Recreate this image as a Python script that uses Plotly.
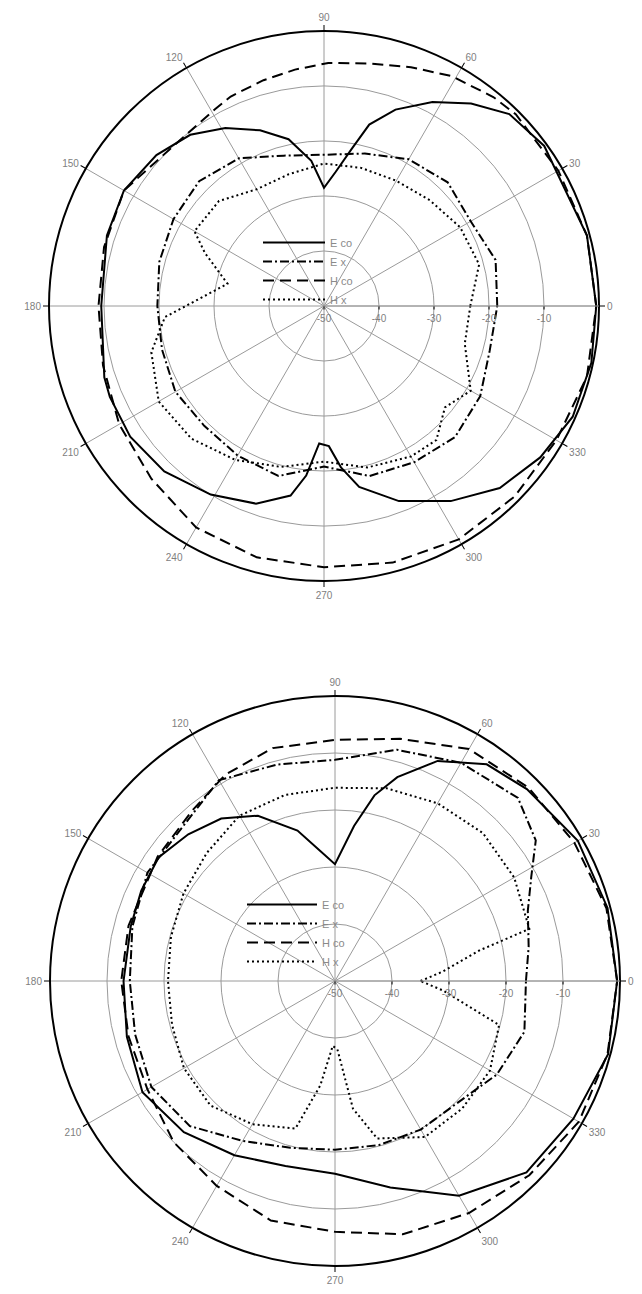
import plotly.graph_objects as go

# ---------------- upper pattern (dB vs. angle in degrees) ----------------
top_eco_theta = [0, 15, 36, 46, 54, 62, 70, 76, 80, 85, 90, 95, 102, 110, 119, 128, 138, 150, 162,
                 180, 198, 203, 214, 226, 239, 251, 260, 264, 268, 272, 276, 281, 291, 303, 314,
                 325, 336, 348, 360]
top_eco_db = [-0.5, -0.5, -0.5, -1.5, -4.5, -8, -12, -16, -21, -25.5, -28.5, -23.5, -19, -16, -13,
              -10.5, -9, -8, -8.5, -9.5, -8, -7.7, -7.5, -8.2, -10, -12, -15, -19, -25, -24.5,
              -20.5, -16.5, -12, -7.7, -4, -2, -0.5, -0.3, -0.5]

top_ex_theta = [0, 15, 30, 45, 60, 75, 90, 105, 120, 135, 150, 165, 180, 195, 210, 225, 240, 255,
                270, 285, 300, 315, 330, 345, 360]
top_ex_db = [-18.5, -17.7, -19.2, -18.2, -19.2, -21.3, -22.5, -21.7, -19, -17.9, -18.4, -19, -19.7,
             -19.5, -18.8, -19.2, -18.6, -18, -20.8, -18, -17.2, -16.3, -17.2, -18.8, -18.5]

top_hco_theta = [0, 15, 30, 45, 51, 61, 70, 79, 89, 97, 105, 114, 119, 135, 150, 165, 180, 195,
                 210, 225, 240, 255, 270, 285, 300, 315, 330, 345, 360]
top_hco_db = [-0.5, -0.5, -0.8, -0.7, -1.1, -2.2, -3.8, -5.1, -5.8, -6.7, -7.5, -8.3, -9.1, -10,
              -8, -8.6, -9, -8.4, -7, -5.6, -3.5, -2.7, -2.5, -1.7, -1, -1, -1.2, -0.5, -0.5]

top_hx_theta = [0, 15, 30, 45, 60, 75, 90, 105, 120, 135, 150, 156, 167, 184, 195, 210, 225, 240,
                255, 270, 285, 300, 310, 320, 330, 345, 360]
top_hx_db = [-23.4, -20.8, -21.4, -22.8, -23.7, -24, -24.1, -25.2, -25.5, -23, -22.8, -26.3, -32,
             -21, -17.5, -15.3, -15.9, -17.7, -19.7, -21.7, -19.6, -18.4, -18.2, -21.3, -19.2,
             -23.5, -23.4]

# ---------------- lower pattern ----------------
bot_eco_theta = [0, 15, 30, 45, 55, 65, 73, 78, 83, 90, 97, 104, 115, 125, 135, 145, 155, 165,
                 180, 195, 210, 225, 240, 255, 270, 285, 300, 315, 330, 345, 360]
bot_eco_db = [-0.5, -0.5, -0.8, -2.4, -3.6, -7.4, -12.6, -16.7, -22.6, -29.5, -26.8, -22.8, -18,
              -15.2, -13.6, -12.2, -12.5, -12.9, -12.9, -12.2, -11, -12.5, -14.7, -16.4, -16.2,
              -12.5, -6.5, -2.5, -1.7, -0.4, -0.5]

bot_ex_theta = [0, 10, 20, 28, 35, 45, 60, 75, 90, 105, 120, 135, 150, 165, 180, 195, 210, 225,
                240, 255, 270, 285, 300, 315, 330, 345, 360]
bot_ex_db = [-16.5, -15.5, -14, -11, -7, -4.6, -5.8, -8, -11.2, -10.7, -9.3, -12, -12, -13.2, -14,
             -13.7, -12.8, -14, -17.6, -19.7, -20.4, -20.2, -19.9, -19.7, -17.2, -15.6, -16.5]

bot_hco_theta = [0, 15, 30, 45, 60, 75, 90, 105, 118, 130, 145, 165, 180, 195, 210, 225, 240, 255,
                 270, 285, 300, 315, 330, 345, 360]
bot_hco_db = [-0.5, -0.7, -1.5, -2, -3, -6, -7.7, -7.7, -9, -11, -12, -12.5, -12.5, -12.5, -12,
              -10, -8.5, -6.5, -6, -4, -3, -1.8, -0.6, -0.5, -0.5]

bot_hx_theta = [0, 5, 12, 15, 30, 45, 60, 75, 90, 105, 120, 135, 150, 165, 180, 195, 210, 225,
                240, 255, 262, 268, 272, 278, 285, 300, 315, 330, 345, 355, 360]
bot_hx_db = [-35, -31, -24, -14.7, -13.7, -13.3, -14, -15, -16.1, -16.2, -16.5, -18.2, -19.3,
             -20.2, -20.7, -20.4, -19.4, -19.1, -21, -23.2, -31.5, -38.6, -38, -27.4, -21.4,
             -18.4, -18.4, -18.6, -20.2, -31, -35]

series_names = ["E co", "E x", "H co", "H x"]
angle_ticks = [0, 30, 60, 90, 120, 150, 180, 210, 240, 270, 300, 330]
db_ticks = [-50, -40, -30, -20, -10, 0]

line_styles = {
    "E co": dict(color="black", width=2, dash="solid"),
    "E x": dict(color="black", width=2, dash="9px,3px,2px,3px"),
    "H co": dict(color="black", width=2, dash="11px,6px"),
    "H x": dict(color="black", width=2, dash="2px,3px"),
}

fig = go.Figure()

panels = [
    ("polar", "legend", [(top_eco_theta, top_eco_db), (top_ex_theta, top_ex_db),
                         (top_hco_theta, top_hco_db), (top_hx_theta, top_hx_db)]),
    ("polar2", "legend2", [(bot_eco_theta, bot_eco_db), (bot_ex_theta, bot_ex_db),
                           (bot_hco_theta, bot_hco_db), (bot_hx_theta, bot_hx_db)]),
]

for subplot, legend_id, curves in panels:
    for name, (theta, db) in zip(series_names, curves):
        fig.add_trace(go.Scatterpolar(
            theta=theta, r=db, mode="lines", name=name,
            line=line_styles[name], subplot=subplot, legend=legend_id,
        ))

grey = "#9a9a9a"
label_font = dict(family="Liberation Sans, Arial, sans-serif", size=10, color="#808080")
legend_font = dict(family="Liberation Sans, Arial, sans-serif", size=11, color="#8a8a8a")


def polar_layout(x0, x1, y0, y1):
    return dict(
        domain=dict(x=[x0, x1], y=[y0, y1]),
        bgcolor="white",
        angularaxis=dict(
            rotation=0, direction="counterclockwise",
            tickmode="array", tickvals=angle_ticks, ticktext=[str(a) for a in angle_ticks],
            showline=True, linecolor="black", linewidth=2,
            ticks="outside", ticklen=5, tickcolor="black", tickwidth=1,
            showgrid=True, gridcolor=grey, gridwidth=1,
            tickfont=label_font,
        ),
        radialaxis=dict(
            range=[-50, 0], tickmode="array", tickvals=db_ticks[:-1],
            ticktext=[str(v) for v in db_ticks[:-1]],
            angle=0, side="clockwise", tickangle=0,
            showline=True, linecolor=grey, linewidth=1,
            ticks="outside", ticklen=3, tickcolor="black",
            showgrid=True, gridcolor=grey, gridwidth=1,
            tickfont=label_font,
        ),
    )


W, H = 642, 1294
# upper circle: centre (324, 306), radius 275 px
# lower circle: centre (335, 981), radius 285 px
fig.update_layout(
    width=W, height=H,
    margin=dict(l=0, r=0, t=0, b=0),
    paper_bgcolor="white",
    plot_bgcolor="white",
    polar=polar_layout((324 - 275) / W, (324 + 275) / W, 1 - (306 + 275) / H, 1 - (306 - 275) / H),
    polar2=polar_layout((335 - 285) / W, (335 + 285) / W, 1 - (981 + 285) / H, 1 - (981 - 285) / H),
    legend=dict(x=258 / W, y=1 - 228 / H, xanchor="left", yanchor="top", itemwidth=62,
                bgcolor="rgba(0,0,0,0)", font=legend_font, tracegroupgap=0),
    legend2=dict(x=242 / W, y=1 - 890 / H, xanchor="left", yanchor="top", itemwidth=70,
                 bgcolor="rgba(0,0,0,0)", font=legend_font, tracegroupgap=0),
    showlegend=True,
)

fig.write_html("out.html")
